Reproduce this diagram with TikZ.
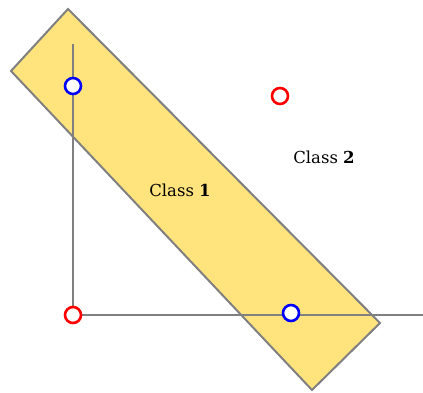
\documentclass[tikz,border=0pt]{standalone}
\usepackage{fontspec}
\setmainfont{DejaVu Serif}
\definecolor{bandyellow}{HTML}{FFE47E}
\definecolor{edgegray}{HTML}{808080}
\begin{document}
\begin{tikzpicture}[x=1pt, y=-1pt,
    sample/.style={circle, draw=#1, fill=white, line width=2.6pt, minimum size=16pt, inner sep=0pt},
    classlabel/.style={font=\fontsize{16.5}{19}\selectfont}]
    \useasboundingbox (0,0) rectangle (423,393);

    % the band around class 1
    \coordinate (bandtop) at (68,9);
    \coordinate (bandright) at (380,323);
    \coordinate (bandbottom) at (312,390);
    \coordinate (bandleft) at (11,71);
    \draw[fill=bandyellow, draw=edgegray, line width=2pt, line join=miter]
        (bandtop) -- (bandright) -- (bandbottom) -- (bandleft) -- cycle;

    % axes
    \coordinate (O) at (73,315);
    \coordinate (ytip) at (73,44);
    \coordinate (xtip) at (423,315);
    \draw[edgegray, line width=2pt] (ytip) -- (O) -- (xtip);

    % samples
    \node[sample=red] (s00) at (O) {};
    \node[sample=blue] (s01) at (73,86) {};
    \node[sample=blue] (s10) at (291,313) {};
    \node[sample=red] (s11) at (280,96) {};

    \node[classlabel] (c1) at (180,190) {Class \textbf{1}};
    \node[classlabel] (c2) at (324,157) {Class \textbf{2}};
\end{tikzpicture}
\end{document}
